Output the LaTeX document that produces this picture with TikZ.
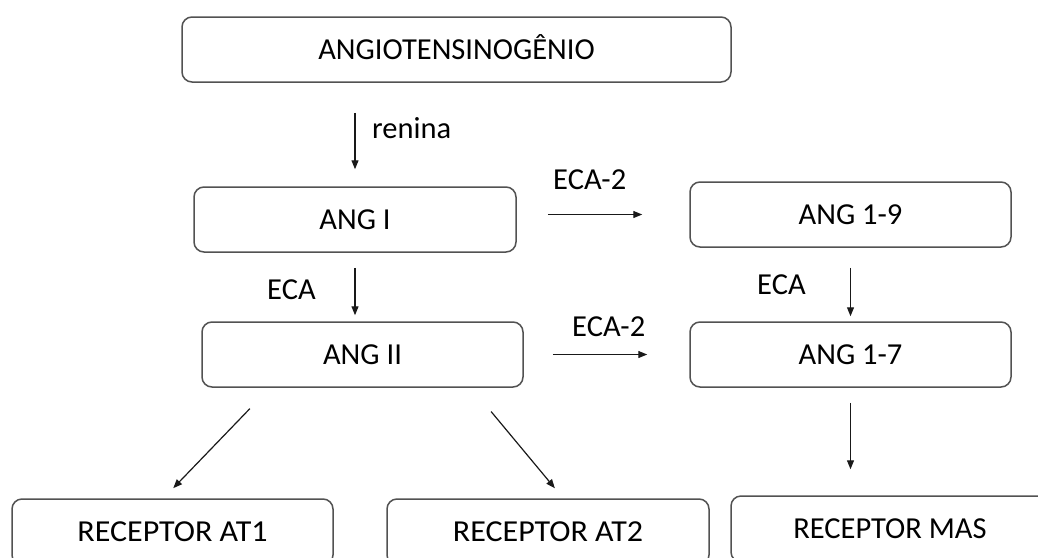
\documentclass[tikz,border=0pt]{standalone}
\usepackage{fontspec}
\setmainfont{Carlito}
\usepackage{graphicx}
\usetikzlibrary{arrows.meta}
\tikzset{
  caixa/.style={draw=black!68, line width=1.5pt, rounded corners=10pt,
    minimum height=65pt, inner sep=0pt, text height=19.5pt, text depth=0pt},
  seta/.style={->, line width=1.2pt, draw=black!90},
  rotulo/.style={inner sep=0pt, anchor=base west},
}
\begin{document}
\begin{tikzpicture}[x=1pt,y=-1pt,>={Triangle[length=9pt,width=7pt]},font=\fontsize{30.5}{36}\selectfont]
		\useasboundingbox (0,0) rectangle (1038,557);
		\clip (0,0) rectangle (1038,557);
		% caixas
		\node[caixa, minimum width=549pt] (agt) at (456.5,49.5) {ANGIOTENSINOGÊNIO};
		\node[caixa, minimum width=322pt] (angI) at (355,219.5) {ANG I};
		\node[caixa, minimum width=321pt] (ang19) at (850.5,214.5) {ANG 1-9};
		\node[caixa, minimum width=321pt] (angII) at (362.5,354.5) {ANG II};
		\node[caixa, minimum width=321pt] (ang17) at (850.5,354.5) {ANG 1-7};
		\node[caixa, minimum width=321pt, minimum height=66pt] (at1) at (172.5,532) {\scalebox{1.05}[1]{RECEPTOR AT1}};
		\node[caixa, minimum width=322pt, minimum height=66pt] (at2) at (548,532) {\scalebox{1.05}[1]{RECEPTOR AT2}};
		\node[caixa, minimum width=318pt, minimum height=66pt] (mas) at (890,529) {RECEPTOR MAS};
		% setas
		\draw[seta, shorten <=30pt, shorten >=17pt] (agt.south -| angI.north) -- (angI.north);
		\draw[seta, shorten <=15pt, shorten >=6pt] (angI.south) -- (angI.south |- angII.north);
		\draw[seta, shorten <=20pt, shorten >=5pt] (ang19.south) -- (ang17.north);
		\draw[seta, shorten <=31pt, shorten >=47pt] (ang19.west -| angI.east) -- (ang19.west);
		\draw[seta, shorten <=29pt, shorten >=42pt] (angII.east) -- (ang17.west);
		\draw[seta, shorten <=29pt, shorten >=14pt] ([xshift=-92.5pt]angII.south) -- ([xshift=-9pt]at1.north);
		\draw[seta, shorten <=31pt, shorten >=13pt] ([xshift=108.8pt]angII.south) -- ([xshift=15.2pt]at2.north);
		\draw[seta, shorten <=15pt, shorten >=26pt] (ang17.south) -- (ang17.south |- mas.north);
		% rotulos
		\node[rotulo] (renina) at (372,138) {renina};
		\node[rotulo] (eca1) at (267,299) {ECA};
		\node[rotulo] (eca2) at (757,294) {ECA};
		\node[rotulo] (ecad1) at (553,189) {ECA-2};
		\node[rotulo] (ecad2) at (572,336) {ECA-2};
\end{tikzpicture}
\end{document}
